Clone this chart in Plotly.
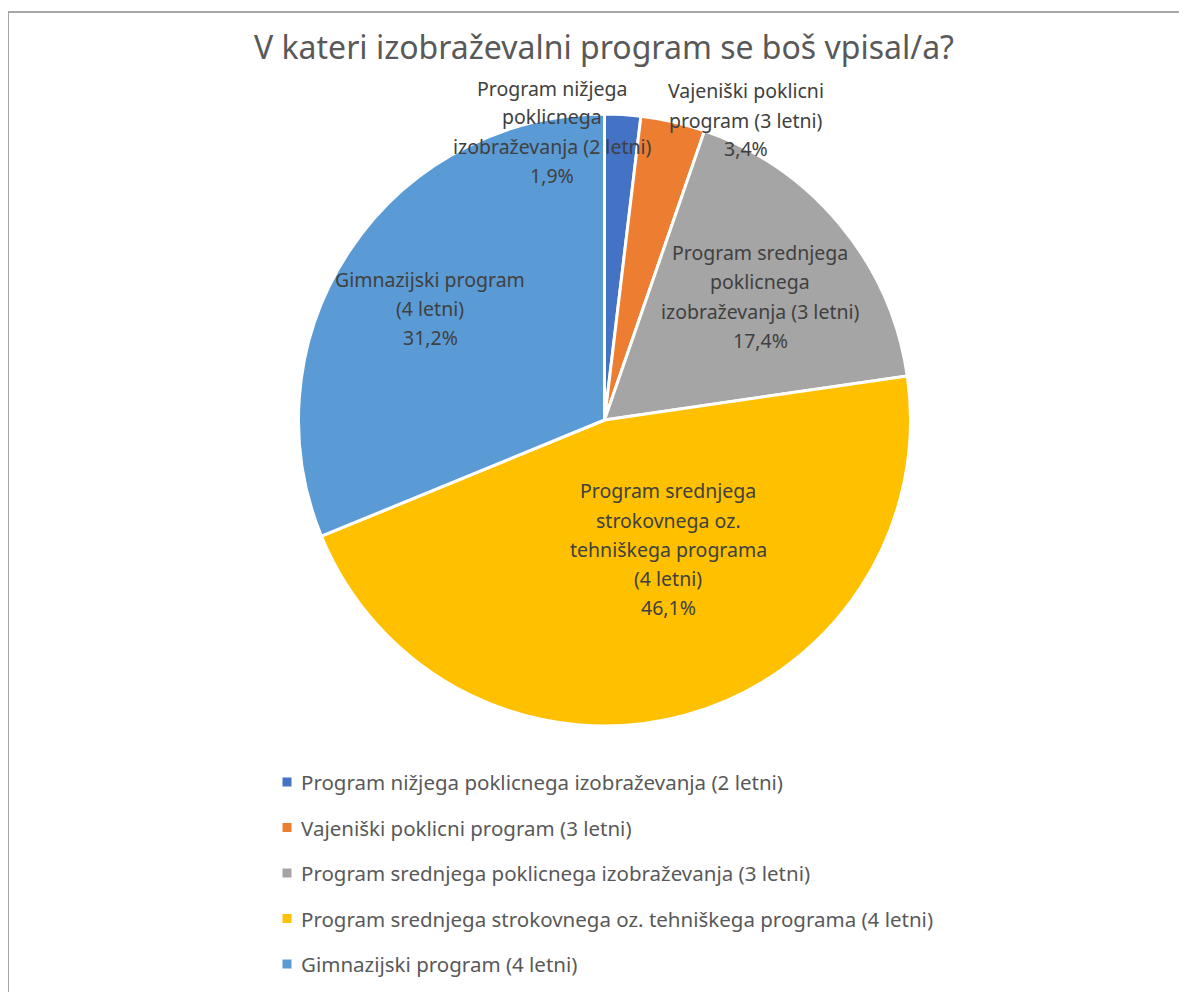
import plotly.graph_objects as go

# ---------------------------------------------------------
# Données
# ---------------------------------------------------------
programi = [
    "Program nižjega poklicnega izobraževanja (2 letni)",
    "Vajeniški poklicni program (3 letni)",
    "Program srednjega poklicnega izobraževanja (3 letni)",
    "Program srednjega strokovnega oz. tehniškega programa (4 letni)",
    "Gimnazijski program (4 letni)",
]
delezi = [1.9, 3.4, 17.4, 46.1, 31.2]
barve = ["#4472C4", "#ED7D31", "#A5A5A5", "#FFC000", "#5B9BD5"]

# data label line breaks (as in the original chart)
oznake_vrstice = [
    ["Program nižjega", "poklicnega", "izobraževanja (2 letni)"],
    ["Vajeniški poklicni", "program (3 letni)"],
    ["Program srednjega", "poklicnega", "izobraževanja (3 letni)"],
    ["Program srednjega", "strokovnega oz.", "tehniškega programa", "(4 letni)"],
    ["Gimnazijski program", "(4 letni)"],
]

W, H = 1187, 992
OFF = 8  # page body margin of the browser
FONT = "Noto Sans"
GREY = "#595959"

# label anchors (px, first line centre) and legend layout
label_pos = [(552, 88), (746, 91), (760, 253), (668, 491), (430, 279)]
line_h = 29
legend_x, legend_y0, legend_dy = 287, 782, 45.5


def px_x(x):
    return (x - OFF) / W


def px_y(y):
    return 1 - (y - OFF) / H


fig = go.Figure()
fig.add_trace(go.Pie(
    labels=programi,
    values=delezi,
    sort=False,
    direction="clockwise",
    rotation=0,
    marker=dict(colors=barve, line=dict(color="white", width=3)),
    textinfo="none",
    hoverinfo="label+percent",
    showlegend=False,
    domain=dict(x=[px_x(298), px_x(911)], y=[px_y(726), px_y(114)]),
))

annotations = []
shapes = []

# ---- data labels ----
for i, vrstice in enumerate(oznake_vrstice):
    cx, cy = label_pos[i]
    vse = vrstice + [f"{delezi[i]:.1f}%".replace(".", ",")]
    for k, t in enumerate(vse):
        annotations.append(dict(
            x=px_x(cx), y=px_y(cy + k * line_h), xref="paper", yref="paper",
            text=t, showarrow=False, xanchor="center", yanchor="middle",
            font=dict(family=FONT, size=19.5, color="#404040"),
        ))

# ---- legend (drawn by hand for the wide row spacing) ----
for i, ime in enumerate(programi):
    y = legend_y0 + i * legend_dy
    shapes.append(dict(
        type="rect", xref="paper", yref="paper",
        x0=px_x(legend_x - 4.5), x1=px_x(legend_x + 4.5),
        y0=px_y(y + 4.5), y1=px_y(y - 4.5),
        fillcolor=barve[i], line=dict(width=0),
    ))
    annotations.append(dict(
        x=px_x(legend_x + 12), y=px_y(y), xref="paper", yref="paper",
        text=ime, showarrow=False, xanchor="left", yanchor="middle",
        font=dict(family=FONT, size=20.5, color=GREY),
    ))

# ---- chart frame ----
shapes.append(dict(
    type="rect", xref="paper", yref="paper",
    x0=px_x(8), x1=px_x(W + 20), y0=px_y(H + 20), y1=px_y(12),
    line=dict(color="#A6A6A6", width=2), fillcolor="rgba(0,0,0,0)",
))

fig.update_layout(
    width=W,
    height=H,
    margin=dict(l=0, r=0, t=0, b=0),
    paper_bgcolor="white",
    plot_bgcolor="white",
    title=dict(
        text="V kateri izobraževalni program se boš vpisal/a?",
        x=px_x(604), xanchor="center", y=px_y(48), yanchor="middle",
        font=dict(family=FONT, size=32, color=GREY),
    ),
    annotations=annotations,
    shapes=shapes,
)

fig.write_html("out.html")
